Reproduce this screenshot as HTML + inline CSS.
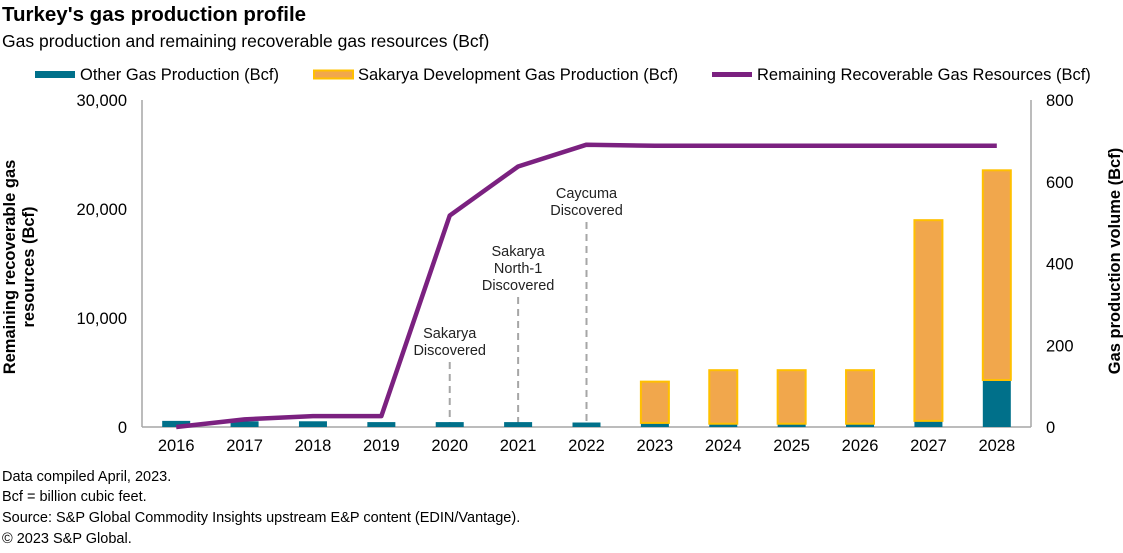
<!DOCTYPE html>
<html><head><meta charset="utf-8">
<style>
body{margin:0;background:#fff;font-family:"Liberation Sans",Arial,sans-serif;}
svg text{font-family:"Liberation Sans",Arial,sans-serif;}
</style></head>
<body>
<svg id="chart" width="1123" height="548" xmlns="http://www.w3.org/2000/svg">
<text x="2" y="21" font-size="20.5" font-weight="bold" fill="#000">Turkey's gas production profile</text>
<text x="2" y="47" font-size="17.5" fill="#000">Gas production and remaining recoverable gas resources (Bcf)</text>
<g font-size="16.5">
 <g><rect x="35" y="71" width="40" height="7" fill="#00708a"/><text x="80" y="80">Other Gas Production (Bcf)</text></g>
 <g><rect x="314" y="70.5" width="39" height="8" fill="#f1a74c" stroke="#ffc000" stroke-width="2"/><text x="358" y="80">Sakarya Development Gas Production (Bcf)</text></g>
 <g><line x1="712" y1="74.5" x2="752" y2="74.5" stroke="#7b2180" stroke-width="5"/><text x="757" y="80">Remaining Recoverable Gas Resources (Bcf)</text></g>
</g>
<g id="axes"></g>
<g id="marks"></g>
<text transform="translate(19,267) rotate(-90)" text-anchor="middle" font-size="16.5" font-weight="bold"><tspan x="0" dy="-4">Remaining  recoverable gas</tspan><tspan x="0" dy="19">resources (Bcf)</tspan></text>
<text transform="translate(1120,261) rotate(-90)" text-anchor="middle" font-size="16.5" font-weight="bold">Gas production volume (Bcf)</text>
<g font-size="14.5">
 <text x="2" y="481">Data compiled April, 2023.</text>
 <text x="2" y="501">Bcf = billion cubic feet.</text>
 <text x="2" y="522">Source: S&amp;P Global Commodity Insights upstream E&amp;P content (EDIN/Vantage).</text>
 <text x="2" y="543">© 2023 S&amp;P Global.</text>
</g>
</svg>
<script>
const categories=["2016","2017","2018","2019","2020","2021","2022","2023","2024","2025","2026","2027","2028"];
const otherGas=[15,14,14,12,12,12,11,10,8,8,8,15,115];
const sakarya=[0,0,0,0,0,0,0,101,131,131,131,491,513];
const remaining=[0,700,1000,1000,19400,23900,25900,25800,25800,25800,25800,25800,25800];
const leftTicks=[0,10000,20000,30000];
const leftTickLabels=["0","10,000","20,000","30,000"];
const rightTicks=[0,200,400,600,800];
const rightTickLabels=["0","200","400","600","800"];
const annotations=[{cat:"2020",lines:["Sakarya","Discovered"],top:338},{cat:"2021",lines:["Sakarya","North-1","Discovered"],top:256},{cat:"2022",lines:["Caycuma","Discovered"],top:198}];
const NS="http://www.w3.org/2000/svg";
const L=142,R=1031,T=100,B=427;
const step=(R-L)/categories.length;
const xc=i=>L+step*(i+0.5);
const yL=v=>B-(v/30000)*(B-T);
const yR=v=>B-(v/800)*(B-T);
function mk(tag,attrs,parent){const e=document.createElementNS(NS,tag);for(const k in attrs)e.setAttribute(k,attrs[k]);parent.appendChild(e);return e;}
const axes=document.getElementById('axes'),marks=document.getElementById('marks');
let e;
e=mk('line',{x1:L,y1:T,x2:L,y2:B,stroke:'#a6a6a6','stroke-width':1.5},axes);


e=mk('line',{x1:R,y1:T,x2:R,y2:B,stroke:'#a6a6a6','stroke-width':1.5},axes);


e=mk('line',{x1:L,y1:B,x2:R,y2:B,stroke:'#a6a6a6','stroke-width':1.5},axes);


leftTicks.forEach((v,i)=>{e=mk('text',{x:L-15,y:yL(v)+6,'text-anchor':'end','font-size':16.5},axes);e.textContent=leftTickLabels[i];

});
rightTicks.forEach((v,i)=>{e=mk('text',{x:R+15,y:yR(v)+6,'text-anchor':'start','font-size':16.5},axes);e.textContent=rightTickLabels[i];

});
categories.forEach((c,i)=>{e=mk('text',{x:xc(i),y:B+24,'text-anchor':'middle','font-size':16.5},axes);e.textContent=c;

});
annotations.forEach(a=>{const i=categories.indexOf(a.cat);const x=xc(i);
 e=mk('line',{x1:x,y1:a.top+(a.lines.length-1)*17+7,x2:x,y2:B,stroke:'#a6a6a6','stroke-width':2,'stroke-dasharray':'7,5'},marks);
 
 
 a.lines.forEach((t,k)=>{e=mk('text',{x:x,y:a.top+k*17,'text-anchor':'middle','font-size':14.5,fill:'#222'},marks);e.textContent=t;
 
 });
});
const bw=28;
categories.forEach((c,i)=>{
 e=mk('rect',{x:xc(i)-bw/2,y:yR(otherGas[i]),width:bw,height:B-yR(otherGas[i]),fill:'#00708a'},marks);
 
 
 if(sakarya[i]>0){const t=otherGas[i]+sakarya[i];
 e=mk('rect',{x:xc(i)-bw/2,y:yR(t),width:bw,height:yR(otherGas[i])-yR(t),fill:'#f1a74c',stroke:'#ffc000','stroke-width':2},marks);
 
 }
});
e=mk('polyline',{points:remaining.map((v,i)=>xc(i)+','+yL(v)).join(' '),fill:'none',stroke:'#7b2180','stroke-width':4.5,'stroke-linejoin':'round'},marks);


</script>
</body></html>
